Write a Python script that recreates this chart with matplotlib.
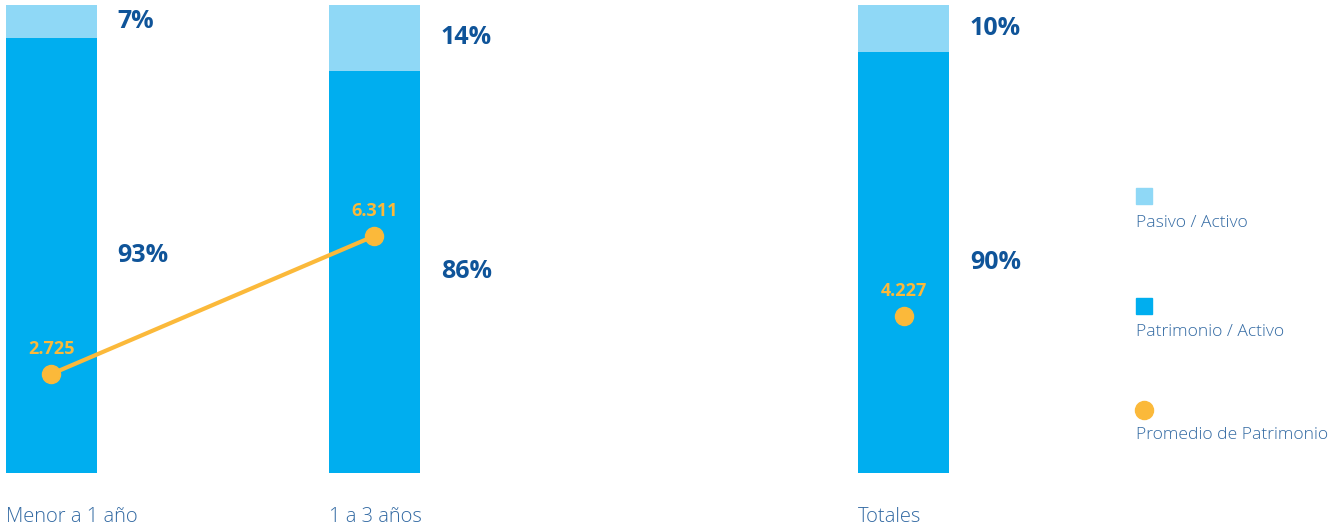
import matplotlib.pyplot as plt
from matplotlib.lines import Line2D

# ratios per antiguedad bucket (percent of activo)
categorias = ["Menor a 1 año", "1 a 3 años", "Totales"]
patrimonio_activo = [93, 86, 90]
pasivo_activo = [7, 14, 10]
promedio_patrimonio = [2.725, 6.311, 4.227]

c_pasivo = "#8fd8f6"
c_patrimonio = "#00aeef"
c_promedio = "#fbb93a"
c_pct = "#0f5499"
c_txt = "#336aa3"

plt.rcParams["font.family"] = ["Open Sans", "DejaVu Sans"]

fig = plt.figure(figsize=(13.44, 5.31), dpi=100)
ax = fig.add_axes([0, 58 / 531, 1000 / 1344, 468 / 531])

# "Totales" sits further right, with a gap after the two buckets
xpos = [0, 1, 2.638]
w = 0.282

ax.bar(xpos, patrimonio_activo, width=w, color=c_patrimonio)
ax.bar(xpos, pasivo_activo, width=w, bottom=patrimonio_activo, color=c_pasivo)
ax.set_xlim(-0.1594, 2.9365)
ax.set_ylim(0, 100)
ax.axis("off")

for x, p, q, name in zip(xpos, patrimonio_activo, pasivo_activo, categorias):
    tx = x + w / 2 + 0.064
    ax.text(tx, p + q / 2, f"{q}%", color=c_pct, fontsize=18, fontweight="bold",
            ha="left", va="center")
    ax.text(tx, p / 2, f"{p}%", color=c_pct, fontsize=18, fontweight="bold",
            ha="left", va="center")
    ax.annotate(name, xy=(x - w / 2, 0), xycoords=("data", "axes fraction"),
                xytext=(0, -32), textcoords="offset points",
                ha="left", va="center", fontsize=14.5, color=c_txt,
                fontweight="light")

# promedio de patrimonio on its own scale
ax2 = ax.twinx()
ax2.set_ylim(0.15, 12.31)
ax2.axis("off")
ax2.plot(xpos[:2], promedio_patrimonio[:2], color=c_promedio, lw=3, zorder=3)
ax2.plot(xpos, promedio_patrimonio, "o", color=c_promedio, ms=13, zorder=4)
for x, v in zip(xpos, promedio_patrimonio):
    ax2.annotate(f"{v:.3f}", xy=(x, v), xytext=(0, 18), textcoords="offset points",
                 ha="center", va="center", color=c_promedio, fontsize=13,
                 fontweight="bold")

# legend: marker above its label
items = [("s", c_pasivo, "Pasivo / Activo", 196, 223),
         ("s", c_patrimonio, "Patrimonio / Activo", 306, 332),
         ("o", c_promedio, "Promedio de Patrimonio", 410, 435)]
for m, c, label, my, ty in items:
    fig.add_artist(Line2D([1144 / 1344], [1 - my / 531], marker=m, color=c,
                          ms=12 if m == "s" else 13, ls="none",
                          transform=fig.transFigure))
    fig.text(1136 / 1344, 1 - ty / 531, label, ha="left", va="center",
             fontsize=12.6, color=c_txt, fontweight="light")

fig.savefig("out.png", dpi=100)
